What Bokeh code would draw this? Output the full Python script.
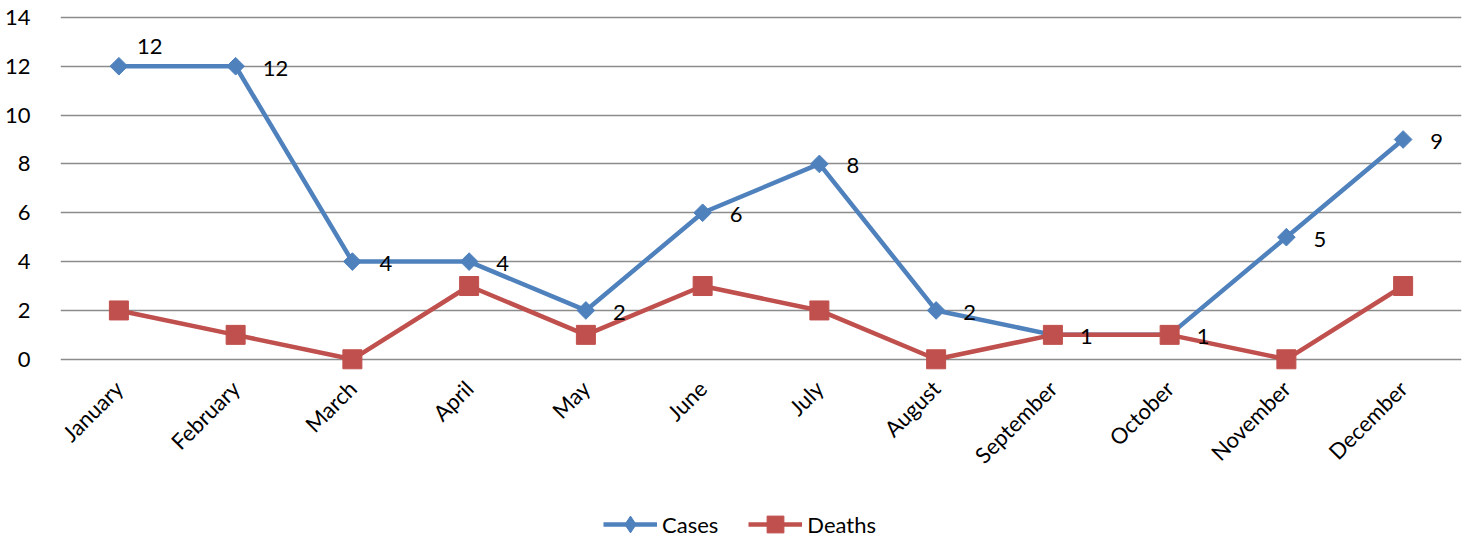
import math
from bokeh.plotting import figure
from bokeh.layouts import column
from bokeh.models import ColumnDataSource, LabelSet, Legend, LegendItem, FixedTicker, Range1d
from bokeh.core.properties import value
from bokeh.embed import file_html
from bokeh.resources import INLINE

months = ["January", "February", "March", "April", "May", "June", "July",
          "August", "September", "October", "November", "December"]
cases = [12, 12, 4, 4, 2, 6, 8, 2, 1, 1, 5, 9]
deaths = [2, 1, 0, 3, 1, 3, 2, 0, 1, 1, 0, 3]
y_ticks = [0, 2, 4, 6, 8, 10, 12, 14]

BLUE = "#4F81BD"
RED = "#C0504D"
FONT = "Lato"
FS = "22px"

src = ColumnDataSource(dict(m=months, cases=cases, deaths=deaths))

W = 1465
p = figure(x_range=months, width=W, height=500, output_backend="svg",
           toolbar_location=None, min_border_left=60, min_border_right=W - 1461,
           min_border_top=12, min_border_bottom=129)
p.y_range = Range1d(-0.5, 14.2)
p.outline_line_color = None

p.xgrid.grid_line_color = None
p.ygrid.grid_line_color = "#8c8c8c"
p.ygrid.grid_line_width = 1.4
p.yaxis.ticker = FixedTicker(ticks=y_ticks)

for ax in (p.xaxis, p.yaxis):
    ax.axis_line_color = None
    ax.major_tick_line_color = None
    ax.minor_tick_line_color = None
    ax.major_label_text_font = FONT
    ax.major_label_text_font_size = FS
    ax.major_label_text_color = "black"
p.yaxis.major_label_standoff = 24
p.xaxis.major_label_standoff = 7
p.xaxis.major_label_orientation = math.pi / 4

line_kw = dict(line_width=4.5)
dia_kw = dict(marker="square", angle=math.pi / 4, size=12.5)
sq_kw = dict(marker="square", size=19)

p.line("m", "cases", source=src, color=BLUE, **line_kw)
p.scatter("m", "cases", source=src, fill_color=BLUE, line_color=BLUE, **dia_kw)
p.line("m", "deaths", source=src, color=RED, **line_kw)
p.scatter("m", "deaths", source=src, fill_color=RED, line_color=RED, **sq_kw)

first = ColumnDataSource(dict(m=months[:1], cases=cases[:1], clab=[str(cases[0])]))
rest = ColumnDataSource(dict(m=months[1:], cases=cases[1:], clab=[str(v) for v in cases[1:]]))

lab_kw = dict(text_baseline="middle", text_font=value(FONT), text_font_size=FS,
              text_color="black")
p.add_layout(LabelSet(x="m", y="cases", text="clab", source=rest,
                      x_offset=27, y_offset=-2, **lab_kw))
p.add_layout(LabelSet(x="m", y="cases", text="clab", source=first,
                      x_offset=18, y_offset=20, **lab_kw))

# legend strip below the chart (same series, hidden renderers used only for legend glyphs)
q = figure(width=W, height=40, output_backend="svg", toolbar_location=None,
           x_axis_type=None, y_axis_type=None, min_border=0,
           x_range=p.x_range, y_range=p.y_range)
q.outline_line_color = None
q.xgrid.grid_line_color = None
q.ygrid.grid_line_color = None
ql1 = q.line("m", "cases", source=src, color=BLUE, visible=False, **line_kw)
qm1 = q.scatter("m", "cases", source=src, marker="diamond", fill_color=BLUE,
                line_color=BLUE, visible=False)
ql2 = q.line("m", "deaths", source=src, color=RED, visible=False, **line_kw)
qm2 = q.scatter("m", "deaths", source=src, marker="square", fill_color=RED,
                line_color=RED, visible=False)

legend = Legend(items=[LegendItem(label="Cases", renderers=[ql1, qm1], index=0),
                       LegendItem(label="Deaths", renderers=[ql2, qm2], index=0)],
                orientation="horizontal", location=(543, -5))
legend.padding = 0
legend.margin = 0
legend.spacing = 30
legend.glyph_width = 54
legend.glyph_height = 42
legend.label_standoff = 5
legend.label_height = 20
legend.label_text_font = FONT
legend.label_text_font_size = FS
legend.label_text_color = "black"
legend.border_line_color = None
legend.background_fill_alpha = 0
q.add_layout(legend, "center")

layout = column(p, q, spacing=0)
open("out.html", "w").write(file_html(layout, INLINE))
